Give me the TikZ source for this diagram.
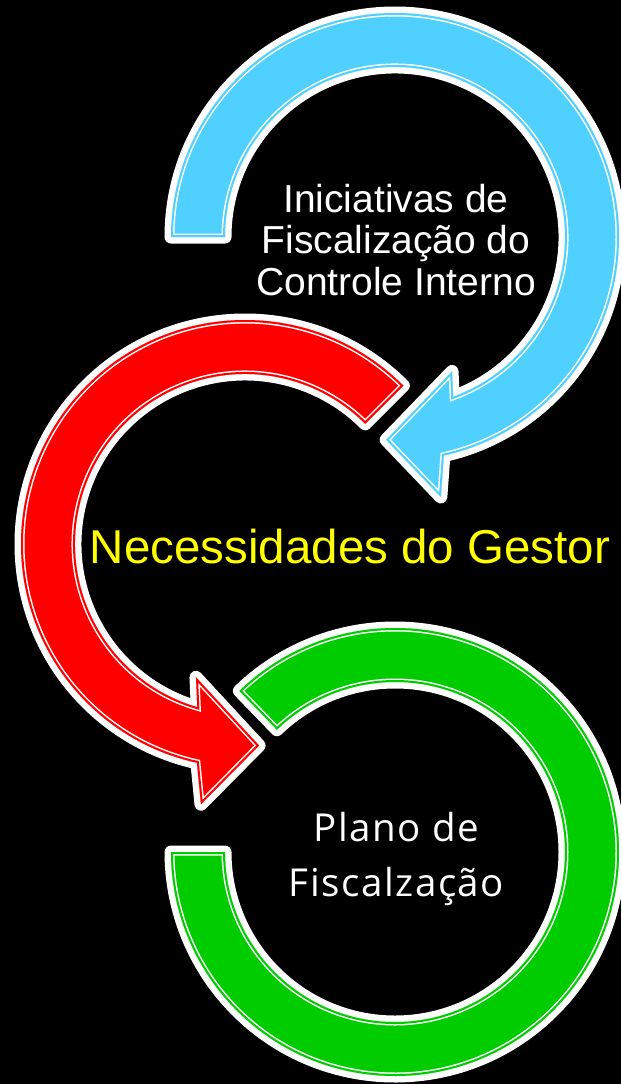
\documentclass[tikz,border=0pt]{standalone}
\usepackage{fontspec}
\setmainfont{Liberation Sans}
\newfontfamily\planofont{Open Sans}[LetterSpace=4]
\definecolor{arrblue}{RGB}{79,208,255}
\definecolor{arrred}{RGB}{255,0,0}
\definecolor{arrgreen}{RGB}{0,204,0}
\definecolor{txtyellow}{RGB}{255,255,0}
\newcommand\fancyshape[2]{%
  \draw[white, line width=13pt, line join=round] #1;
  \fill[#2] #1;
  \begin{scope}
    \clip #1;
    \draw[white, line width=7pt] #1;
    \draw[#2, line width=4pt] #1;
  \end{scope}}
\tikzset{
  wtxt/.style={text=white, inner sep=0pt, anchor=base},
}
\begin{document}
\begin{tikzpicture}[x=1pt,y=-1pt]
\useasboundingbox (0,0) rectangle (621,1084);
\clip (0,0) rectangle (621,1084);
\fill[black] (0,0) rectangle (621,1084);
\coordinate (B) at (395,237);
\coordinate (R) at (245,544);
\coordinate (G) at (395,852);
\def\bluepath{([shift={(180:224)}]B) arc[start angle=180, end angle=437.4, radius=224]
  -- ([shift={(80:264)}]B) -- ([shift={(92.5:203)}]B) -- ([shift={(67:146)}]B)
  -- ([shift={(70:170)}]B) arc[start angle=430, end angle=180, radius=170] -- cycle}
\def\redpath{([shift={(315:224)}]R) arc[start angle=315, end angle=102.4, radius=224]
  -- ([shift={(99.6:264)}]R) -- ([shift={(86:202)}]R) -- ([shift={(110.2:142)}]R)
  -- ([shift={(106.3:170)}]R) arc[start angle=106.3, end angle=315, radius=170] -- cycle}
\def\greenpath{([shift={(226:224)}]G) arc[start angle=226, end angle=540, radius=224]
  -- ([shift={(180:170)}]G) arc[start angle=540, end angle=226, radius=170] -- cycle}
\fancyshape{\bluepath}{arrblue}
\fancyshape{\redpath}{arrred}
\fancyshape{\greenpath}{arrgreen}
\node[wtxt, font=\fontsize{39}{41}\selectfont] (b1) at (396,212) {Iniciativas de};
\node[wtxt, font=\fontsize{39}{41}\selectfont] (b2) at (396,253.5) {Fiscalização do};
\node[wtxt, font=\fontsize{39}{41}\selectfont] (b3) at (396,295) {Controle Interno};
\node[wtxt, text=txtyellow, font=\fontsize{47.5}{50}\selectfont] (nec) at (350,563) {Necessidades do Gestor};
\node[wtxt, font=\planofont\fontsize{38.5}{40}\selectfont] (p1) at (396.5,841) {Plano de};
\node[wtxt, font=\planofont\fontsize{38.5}{40}\selectfont] (p2) at (396.5,896) {Fiscalzação};
\end{tikzpicture}
\end{document}
